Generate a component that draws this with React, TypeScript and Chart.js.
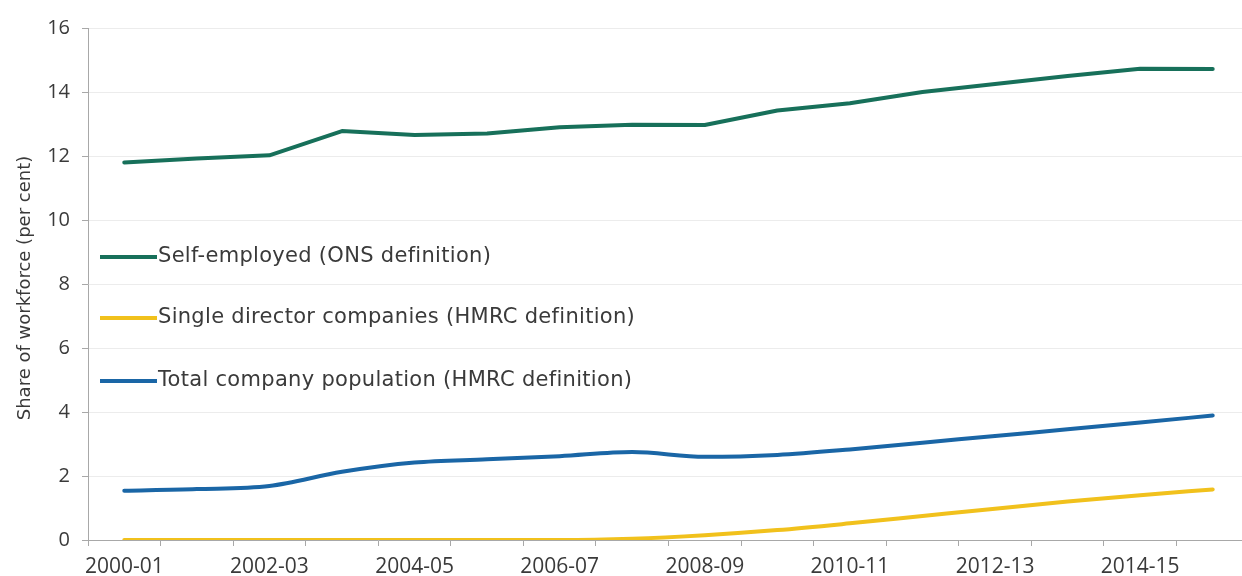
import React, { useEffect, useRef } from "react";
import { Chart, registerables } from "chart.js";

Chart.register(...registerables);

const categories = [
  "2000-01", "2001-02", "2002-03", "2003-04", "2004-05", "2005-06", "2006-07", "2007-08",
  "2008-09", "2009-10", "2010-11", "2011-12", "2012-13", "2013-14", "2014-15", "2015-16",
];

const selfEmployed = [11.8, 11.92, 12.02, 12.78, 12.66, 12.7, 12.9, 12.98, 12.97, 13.42, 13.65, 14.0, 14.25, 14.5, 14.73, 14.72];
const singleDirector = [0, 0, 0, 0, 0, 0, 0, 0.04, 0.15, 0.31, 0.52, 0.75, 0.98, 1.2, 1.4, 1.58];
const totalCompany = [1.54, 1.59, 1.69, 2.13, 2.42, 2.52, 2.62, 2.75, 2.6, 2.66, 2.83, 3.04, 3.25, 3.46, 3.67, 3.89];

const seriesLabels = [
  "Self-employed (ONS definition)",
  "Single director companies (HMRC definition)",
  "Total company population (HMRC definition)",
];
const seriesColors = ["#17705a", "#f1c11c", "#1a66a6"];

const yTicks = [0, 2, 4, 6, 8, 10, 12, 14, 16];
const yTitle = "Share of workforce (per cent)";

const FONT = "'Open Sans', 'DejaVu Sans', sans-serif";
const WIDE_FONT = "'DejaVu Sans', 'Open Sans', sans-serif";
const TEXT = "#3a3a3a";

const legendRowY = [257, 318, 381];

const inlineLegend = {
  id: "inlineLegend",
  afterDatasetsDraw(chart: any) {
    const ctx = chart.ctx;
    ctx.save();
    chart.data.datasets.forEach((ds: any, i: number) => {
      const y = legendRowY[i];
      ctx.beginPath();
      ctx.strokeStyle = ds.borderColor;
      ctx.lineWidth = 4;
      ctx.lineCap = "butt";
      ctx.moveTo(100, y);
      ctx.lineTo(157, y);
      ctx.stroke();
      ctx.fillStyle = TEXT;
      ctx.font = `21px ${WIDE_FONT}`;
      try { (ctx as any).letterSpacing = "0.3px"; } catch (e) {}
      ctx.textBaseline = "middle";
      ctx.textAlign = "left";
      ctx.fillText(ds.label, 158, y);
      try { (ctx as any).letterSpacing = "0px"; } catch (e) {}
    });
    // y-axis title
    const area = chart.chartArea;
    ctx.translate(25, (area.top + area.bottom) / 2 + 4);
    ctx.rotate(-Math.PI / 2);
    ctx.fillStyle = TEXT;
    ctx.font = `18px ${WIDE_FONT}`;
    ctx.textAlign = "center";
    ctx.textBaseline = "middle";
    ctx.fillText(yTitle, 0, 0);
    ctx.restore();
  },
};

export default function App() {
  const ref = useRef<HTMLCanvasElement | null>(null);

  useEffect(() => {
    if (!ref.current) return;
    const series = [selfEmployed, singleDirector, totalCompany];
    const chart = new Chart(ref.current, {
      type: "line",
      data: {
        labels: categories,
        datasets: series.map((d, i) => ({
          label: seriesLabels[i],
          data: d,
          borderColor: seriesColors[i],
          backgroundColor: seriesColors[i],
          borderWidth: 4,
          pointRadius: 0,
          borderCapStyle: "round" as const,
          borderJoinStyle: "round" as const,
          cubicInterpolationMode: i === 0 ? "default" as const : "monotone" as const,
          tension: i === 0 ? 0 : 0.4,
        })),
      },
      options: {
        responsive: false,
        animation: false,
        layout: { padding: { top: 28, right: 13, left: 0, bottom: 0 } },
        plugins: {
          legend: { display: false },
          tooltip: { enabled: false },
        },
        scales: {
          x: {
            type: "category",
            offset: true,
            grid: {
              offset: true,
              drawOnChartArea: false,
              drawTicks: true,
              tickLength: 6,
              tickColor: "#a8a8a8",
            },
            border: { color: "#a8a8a8", width: 1 },
            ticks: {
              autoSkip: false,
              maxRotation: 0,
              padding: 8,
              color: TEXT,
              font: { family: FONT, size: 21 },
              callback: (_v: any, idx: number) => (idx % 2 === 0 ? categories[idx] : ""),
            },
            afterFit: (scale: any) => {
              scale.height = 36;
            },
          },
          y: {
            min: 0,
            max: 16,
            afterBuildTicks: (scale: any) => {
              scale.ticks = yTicks.map((v) => ({ value: v }));
            },
            grid: {
              color: "#ececec",
              lineWidth: 1,
              drawTicks: true,
              tickLength: 6,
              tickColor: "#a8a8a8",
            },
            border: { color: "#a8a8a8", width: 1 },
            ticks: {
              padding: 12,
              color: TEXT,
              font: { family: FONT, size: 20 },
            },
            afterFit: (scale: any) => {
              scale.width = 88;
            },
          },
        },
      },
      plugins: [inlineLegend],
    });
    return () => chart.destroy();
  }, []);

  return (
    <div
      style={{
        position: "fixed",
        left: 0,
        top: 0,
        width: 1242,
        height: 576,
        overflow: "hidden",
        background: "#ffffff",
      }}
    >
      <canvas ref={ref} width={1262} height={576} style={{ display: "block" }} />
    </div>
  );
}
